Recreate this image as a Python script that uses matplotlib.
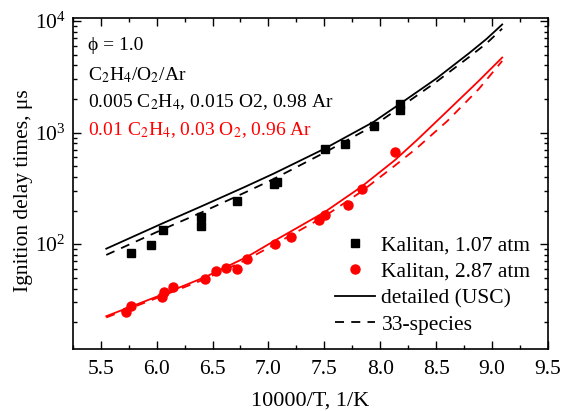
import numpy as np
import matplotlib
matplotlib.use('Agg')
import matplotlib.pyplot as plt

plt.rcParams['font.family'] = ['Liberation Serif', 'DejaVu Serif']
plt.rcParams['mathtext.fontset'] = 'stix'
plt.rcParams['font.size'] = 15.5

# Kalitan data, 1.07 atm (black squares)
x_k107 = [5.767, 5.946, 6.053, 6.397, 6.397, 6.722, 7.048, 7.079, 7.507, 7.688, 7.940, 8.176, 8.176]
y_k107 = [83, 98, 133, 175, 146, 243, 344, 361, 708, 785, 1155, 1820, 1585]

# Kalitan data, 2.87 atm (red circles)
x_k287 = [5.723, 5.767, 6.044, 6.067, 6.147, 6.436, 6.535, 6.624, 6.722, 6.808,
          7.061, 7.200, 7.450, 7.507, 7.715, 7.833, 8.131]
y_k287 = [24.8, 28.1, 33.7, 37.4, 41.5, 48.9, 57.7, 60.6, 59.4, 73,
          100.7, 115.6, 163, 182, 222, 314, 670]

# model curves, 1.07 atm
x_b = [5.55, 6.05, 6.4, 6.79, 7.05, 7.5, 7.94, 8.18, 8.5, 8.8, 8.95, 9.09]
y_b_usc = [91, 153, 218, 326, 430, 715, 1245, 1820, 3040, 5200, 6900, 9300]
y_b_33 = [80, 135, 192, 290, 385, 660, 1150, 1690, 2840, 4800, 6300, 8530]

# model curves, 2.87 atm
x_r = [5.55, 6.04, 6.44, 6.81, 7.06, 7.5, 7.83, 8.13, 8.33, 8.6, 8.88, 9.09]
y_r_usc = [22.6, 35, 51, 77, 108, 193, 326, 565, 860, 1560, 2900, 4700]
y_r_33 = [22, 34, 49, 73, 100, 177, 295, 505, 730, 1270, 2450, 4380]

fig = plt.figure(figsize=(5.65, 4.11), dpi=100)
ax = fig.add_axes([0.1287, 0.151, 0.8413, 0.806])

ax.plot(x_b, y_b_usc, color='black', lw=1.3)
ax.plot(x_b, y_b_33, color='black', lw=1.3, ls=(0, (5, 4)))
ax.plot(x_r, y_r_usc, color='red', lw=1.3)
ax.plot(x_r, y_r_33, color='red', lw=1.3, ls=(0, (5, 4)))
ax.plot(x_k107, y_k107, 's', color='black', ms=6, ls='none')
ax.plot(x_k287, y_k287, 'o', color='red', ms=6.5, ls='none', mec='red')

ax.set_yscale('log')
ax.set_xlim(5.25, 9.5)
ax.set_ylim(11.5, 10700)
ax.set_xticks(np.arange(5.5, 9.51, 0.5))
ax.set_xticks(np.arange(5.25, 9.51, 0.25), minor=True)
ax.set_xticklabels(['%.1f' % v for v in np.arange(5.5, 9.51, 0.5)])
ax.tick_params(which='both', direction='in', top=True, right=True, width=1)
ax.tick_params(which='major', length=6, pad=5)
ax.tick_params(axis='x', which='major', pad=8)
ax.tick_params(which='minor', length=3)
for s in ax.spines.values():
    s.set_linewidth(1.2)

ax.set_xlabel('10000/T, 1/K', labelpad=9, fontsize=16)
ax.set_ylabel('Ignition delay times, \u03bcs')
ax.yaxis.set_label_coords(-0.0835, 0.477)

ax.text(0.032, 0.917, '\u03d5 = 1.0', transform=ax.transAxes, va='center', fontsize=14)
ax.text(0.032, 0.827, r'C$_2$H$_4$/O$_2$/Ar', transform=ax.transAxes, va='center', fontsize=14)
ax.text(0.032, 0.745, r'0.005 C$_2$H$_4$, 0.015 O2, 0.98 Ar', transform=ax.transAxes,
        va='center', fontsize=14)
ax.text(0.032, 0.661, r'0.01 C$_2$H$_4$, 0.03 O$_2$, 0.96 Ar', transform=ax.transAxes,
        va='center', color='red', fontsize=14)

h1, = ax.plot([], [], 's', color='black', ms=6)
h2, = ax.plot([], [], 'o', color='red', ms=6.5)
h3, = ax.plot([], [], color='black', lw=1.3)
h4, = ax.plot([], [], color='black', lw=1.3, ls=(0, (5, 4)))
ax.legend([h1, h2, h3, h4],
          ['Kalitan, 1.07 atm', 'Kalitan, 2.87 atm', 'detailed (USC)', '33-species'],
          loc='upper left', bbox_to_anchor=(0.552, 0.343), frameon=False,
          borderpad=0, borderaxespad=0, handlelength=1.85, handletextpad=0.3,
          labelspacing=0.3, numpoints=1)

fig.savefig('out.png', dpi=100)
